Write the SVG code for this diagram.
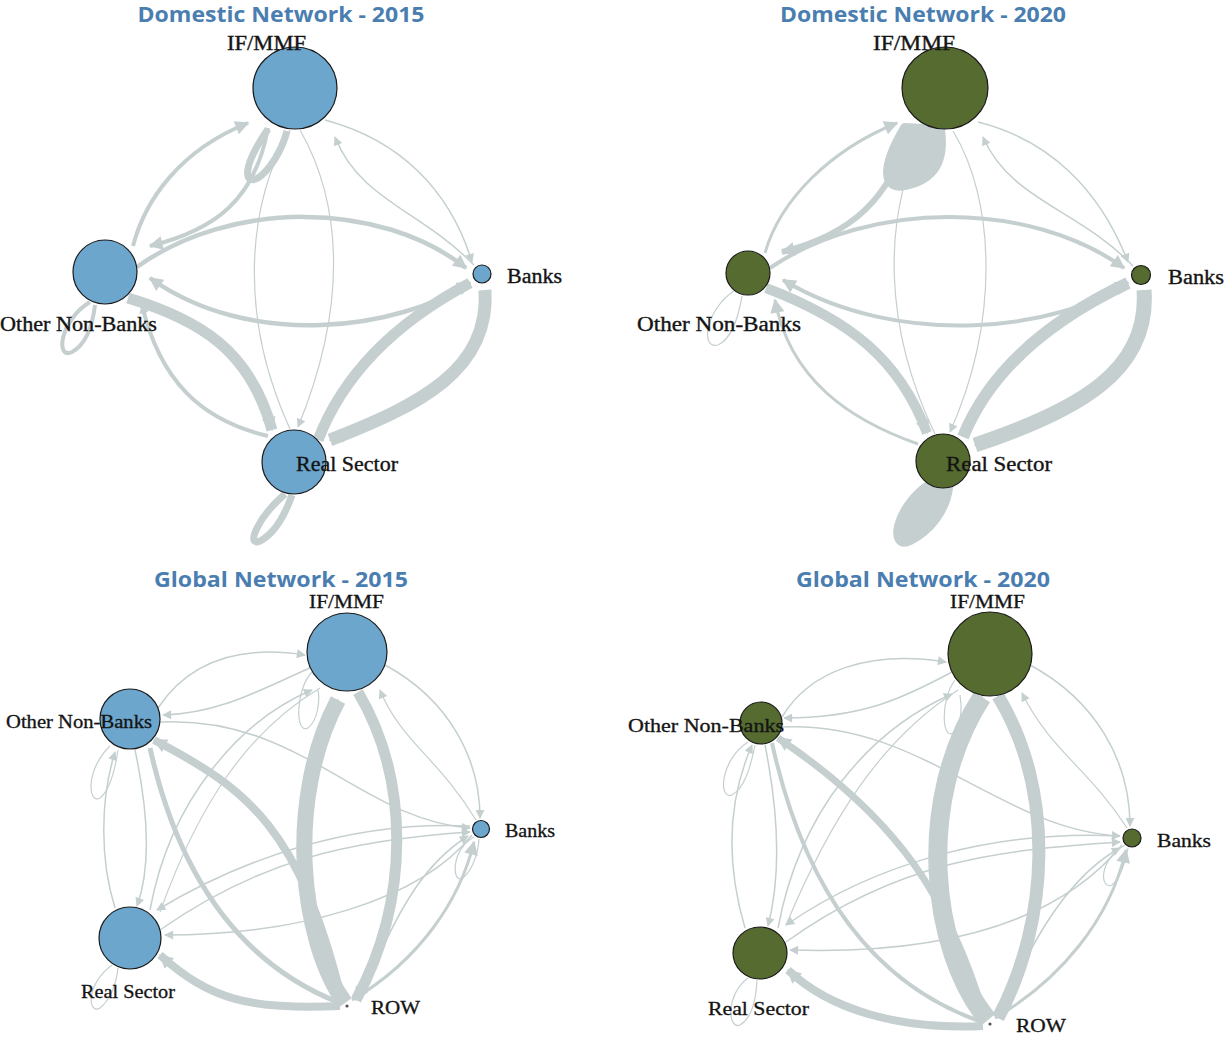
<svg xmlns="http://www.w3.org/2000/svg" width="1225" height="1038" viewBox="0 0 1225 1038">
<style>
.e{fill:none;stroke:#C5CFCF;stroke-linecap:butt;stroke-linejoin:round}
.blob{fill:#C5CFCF;stroke:#C5CFCF;stroke-linejoin:round}
.ttl{font-family:"Open Sans","Noto Sans",sans-serif;font-weight:700;font-size:22px;fill:#4A7EB0;text-anchor:middle}
.lbl{font-family:"Liberation Serif",serif;font-size:20px;fill:#141414;stroke:#141414;stroke-width:0.35}
.lbs{font-family:"Liberation Serif",serif;font-size:18px;fill:#141414;stroke:#141414;stroke-width:0.3}
.nb{fill:#6CA6CD;stroke:#1a1a1a;stroke-width:1.2}
.ng{fill:#556B2F;stroke:#1a1a1a;stroke-width:1.2}
</style>
<defs>
<marker id="as" viewBox="0 0 10 10" refX="9" refY="5" markerWidth="11" markerHeight="9" markerUnits="userSpaceOnUse" orient="auto"><path d="M0,0 L10,5 L0,10 z" fill="#C5CFCF"/></marker>
<marker id="al" viewBox="0 0 10 10" refX="9" refY="5" markerWidth="17" markerHeight="14" markerUnits="userSpaceOnUse" orient="auto"><path d="M0,0 L10,5 L0,10 z" fill="#C5CFCF"/></marker>
</defs>
<rect width="1225" height="1038" fill="#fff"/>
<g id="titles">
<text class="ttl" x="281" y="22" textLength="287" lengthAdjust="spacingAndGlyphs">Domestic Network - 2015</text>
<text class="ttl" x="923" y="22" textLength="286" lengthAdjust="spacingAndGlyphs">Domestic Network - 2020</text>
<text class="ttl" x="281" y="587" textLength="254" lengthAdjust="spacingAndGlyphs">Global Network - 2015</text>
<text class="ttl" x="923" y="587" textLength="254" lengthAdjust="spacingAndGlyphs">Global Network - 2020</text>
</g>
<g id="connectors">
<!-- Panel 1 -->
<path class="e" stroke-width="4" marker-end="url(#al)" d="M133,246 C145,200 180,150 248,123"/>
<path class="e" stroke-width="4" marker-end="url(#al)" d="M268,128 C255,200 215,230 150,246"/>
<path class="e" stroke-width="7" d="M268,129 C240,170 245,185 258,178 C270,170 282,150 287,131"/>
<path class="e" stroke-width="1.5" marker-end="url(#as)" d="M325,120 C400,140 450,190 472,262"/>
<path class="e" stroke-width="1.5" marker-end="url(#as)" d="M474,265 C420,210 360,200 335,137"/>
<path class="e" stroke-width="1.2" marker-end="url(#as)" d="M300,130 C340,200 350,300 298,427"/>
<path class="e" stroke-width="1.2" d="M290,429 C240,320 245,210 290,130"/>
<path class="e" stroke-width="4.5" marker-end="url(#al)" d="M137,267 C230,200 380,200 466,268"/>
<path class="e" stroke-width="4.5" marker-end="url(#al)" d="M470,282 C400,330 250,350 150,278"/>
<path class="e" stroke-width="11" marker-end="url(#al)" d="M128,298 C200,320 250,350 272,430"/>
<path class="e" stroke-width="4" marker-end="url(#as)" d="M268,436 C200,420 160,380 142,305"/>
<path class="e" stroke-width="4" d="M90,302 C60,320 55,360 72,352 C85,345 92,330 95,305"/>
<path class="e" stroke-width="11" marker-end="url(#al)" d="M318,440 C345,370 400,320 470,283"/>
<path class="e" stroke-width="13" marker-end="url(#al)" d="M485,290 C490,370 420,405 330,440"/>
<path class="e" stroke-width="7" d="M285,494 C255,520 245,550 262,540 C275,532 285,515 292,495"/>
<!-- Panel 2 -->
<path class="e" stroke-width="3" marker-end="url(#al)" d="M765,253 C780,200 830,150 897,123"/>
<path class="e" stroke-width="6" marker-end="url(#al)" d="M910,130 C890,200 850,235 782,252"/>
<path class="blob" stroke-width="10" d="M905,128 C880,170 885,190 905,185 C930,180 945,165 940,130 Z"/>
<path class="e" stroke-width="1.5" marker-end="url(#as)" d="M978,122 C1050,140 1100,190 1128,262"/>
<path class="e" stroke-width="1.5" marker-end="url(#as)" d="M1133,266 C1080,210 1010,200 983,137"/>
<path class="e" stroke-width="1.2" marker-end="url(#as)" d="M953,131 C995,200 1000,320 950,432"/>
<path class="e" stroke-width="1.2" d="M935,434 C885,330 880,220 925,130"/>
<path class="e" stroke-width="4" marker-end="url(#al)" d="M770,268 C870,200 1030,200 1124,268"/>
<path class="e" stroke-width="4" marker-end="url(#al)" d="M1128,282 C1060,330 900,350 783,280"/>
<path class="e" stroke-width="10" marker-end="url(#al)" d="M766,288 C850,320 900,360 927,433"/>
<path class="e" stroke-width="3" marker-end="url(#al)" d="M918,444 C850,420 790,380 775,300"/>
<path class="e" stroke-width="1.2" d="M735,290 C705,310 700,350 718,345 C730,340 738,320 742,296"/>
<path class="e" stroke-width="12" marker-end="url(#al)" d="M963,437 C990,370 1050,320 1128,283"/>
<path class="e" stroke-width="15" marker-end="url(#al)" d="M1144,290 C1150,370 1080,410 975,445"/>
<path class="blob" stroke-width="10" d="M928,486 C895,510 890,550 910,540 C930,530 945,510 948,488 Z"/>
<!-- Panel 3 -->
<path class="e" stroke-width="16" marker-end="url(#al)" d="M345,1003 C300,940 285,800 338,700"/>
<path class="e" stroke-width="11" marker-end="url(#al)" d="M358,692 C410,780 410,900 356,1000"/>
<path class="e" stroke-width="8" marker-end="url(#al)" d="M342,1000 C300,830 250,790 154,740"/>
<path class="e" stroke-width="5" d="M150,748 C175,860 230,960 340,1003"/>
<path class="e" stroke-width="8" marker-end="url(#al)" d="M340,1006 C250,1010 210,1000 160,955"/>
<path class="e" stroke-width="1.5" marker-end="url(#as)" d="M472,835 C420,900 300,935 165,935"/>
<path class="e" stroke-width="1.5" marker-end="url(#as)" d="M470,826 C350,820 240,860 157,910"/>
<path class="e" stroke-width="1.5" marker-end="url(#as)" d="M160,722 C300,715 360,820 470,828"/>
<path class="e" stroke-width="1.5" marker-end="url(#as)" d="M160,930 C260,860 350,840 470,832"/>
<path class="e" stroke-width="3" marker-end="url(#al)" d="M352,1000 C420,960 460,900 474,842"/>
<path class="e" stroke-width="1.5" marker-end="url(#as)" d="M365,990 C400,900 430,860 468,836"/>
<path class="e" stroke-width="1.5" marker-end="url(#as)" d="M385,665 C450,700 480,760 480,818"/>
<path class="e" stroke-width="1.2" marker-end="url(#as)" d="M476,820 C440,760 400,740 380,690"/>
<path class="e" stroke-width="1.5" marker-end="url(#as)" d="M158,708 C190,660 240,645 305,655"/>
<path class="e" stroke-width="1.5" marker-end="url(#as)" d="M312,667 C260,690 220,713 163,715"/>
<path class="e" stroke-width="1.5" marker-end="url(#as)" d="M150,910 C170,800 240,720 312,690"/>
<path class="e" stroke-width="1.2" d="M320,688 C250,730 200,800 160,912"/>
<path class="e" stroke-width="1.5" marker-end="url(#as)" d="M135,750 C150,820 150,870 137,906"/>
<path class="e" stroke-width="1.5" marker-end="url(#as)" d="M115,908 C100,860 100,800 115,752"/>
<path class="e" stroke-width="1.2" d="M110,746 C85,770 88,805 100,798 C110,790 115,770 118,750"/>
<path class="e" stroke-width="1.2" d="M112,965 C85,985 88,1015 100,1008 C110,1000 116,985 118,968"/>
<path class="e" stroke-width="1.2" d="M474,837 C450,850 452,885 463,878 C472,870 478,855 479,839"/>
<path class="e" stroke-width="1.2" d="M312,672 C295,690 295,735 308,728 C318,720 320,700 318,690"/>
<!-- Panel 4 -->
<path class="e" stroke-width="19" marker-end="url(#al)" d="M988,1020 C930,950 915,800 982,697"/>
<path class="e" stroke-width="13" marker-end="url(#al)" d="M998,696 C1055,790 1050,920 998,1018"/>
<path class="e" stroke-width="7" marker-end="url(#al)" d="M985,1018 C950,900 900,820 778,738"/>
<path class="e" stroke-width="4" d="M772,743 C800,870 860,980 982,1022"/>
<path class="e" stroke-width="8" marker-end="url(#al)" d="M983,1026 C900,1030 830,1010 788,970"/>
<path class="e" stroke-width="1.5" marker-end="url(#as)" d="M1122,845 C1060,920 950,955 790,950"/>
<path class="e" stroke-width="1.5" marker-end="url(#as)" d="M1120,836 C1000,830 880,860 786,925"/>
<path class="e" stroke-width="1.5" marker-end="url(#as)" d="M782,727 C920,720 1000,830 1120,836"/>
<path class="e" stroke-width="1.5" marker-end="url(#as)" d="M786,942 C900,860 1000,850 1120,842"/>
<path class="e" stroke-width="3" marker-end="url(#al)" d="M995,1018 C1060,980 1110,920 1126,850"/>
<path class="e" stroke-width="1.5" marker-end="url(#as)" d="M1005,1005 C1040,920 1080,870 1120,848"/>
<path class="e" stroke-width="1.5" marker-end="url(#as)" d="M1030,665 C1095,700 1130,760 1130,826"/>
<path class="e" stroke-width="1.2" marker-end="url(#as)" d="M1127,828 C1090,770 1050,750 1022,693"/>
<path class="e" stroke-width="1.5" marker-end="url(#as)" d="M782,717 C810,670 870,650 946,662"/>
<path class="e" stroke-width="1.5" marker-end="url(#as)" d="M952,672 C900,700 860,718 784,718"/>
<path class="e" stroke-width="1.5" marker-end="url(#as)" d="M778,928 C800,810 870,730 952,694"/>
<path class="e" stroke-width="1.2" d="M958,690 C880,740 830,820 786,925"/>
<path class="e" stroke-width="1.5" marker-end="url(#as)" d="M765,745 C780,820 780,880 768,926"/>
<path class="e" stroke-width="1.5" marker-end="url(#as)" d="M745,928 C725,860 728,800 752,745"/>
<path class="e" stroke-width="1.2" d="M748,742 C720,760 718,800 732,795 C744,788 750,770 755,745"/>
<path class="e" stroke-width="1.2" d="M748,978 C725,995 728,1030 740,1025 C752,1018 756,1000 757,980"/>
<path class="e" stroke-width="1.2" d="M1125,845 C1098,860 1100,890 1112,885 C1120,878 1126,862 1128,848"/>
<path class="e" stroke-width="1.2" d="M955,680 C940,700 942,740 953,733 C962,725 962,705 960,695"/>
</g>
<!-- Panel 1 nodes -->
<g id="d15-ifmmf"><ellipse class="nb" cx="295" cy="88" rx="42" ry="41"/><text class="lbl" x="227" y="50" textLength="79" lengthAdjust="spacingAndGlyphs">IF/MMF</text></g>
<g id="d15-onb"><circle class="nb" cx="105" cy="272" r="32"/><text class="lbl" x="0" y="331" textLength="157" lengthAdjust="spacingAndGlyphs">Other Non-Banks</text></g>
<g id="d15-banks"><circle class="nb" cx="482" cy="274" r="9"/><text class="lbl" x="507" y="283" textLength="55" lengthAdjust="spacingAndGlyphs">Banks</text></g>
<g id="d15-real"><circle class="nb" cx="294" cy="462" r="32"/><text class="lbl" x="296" y="471" textLength="102" lengthAdjust="spacingAndGlyphs">Real Sector</text></g>
<!-- Panel 2 nodes -->
<g id="d20-ifmmf"><ellipse class="ng" cx="945" cy="88" rx="43" ry="41"/><text class="lbl" x="873" y="50" textLength="82" lengthAdjust="spacingAndGlyphs">IF/MMF</text></g>
<g id="d20-onb"><circle class="ng" cx="748" cy="273" r="22"/><text class="lbl" x="637" y="331" textLength="164" lengthAdjust="spacingAndGlyphs">Other Non-Banks</text></g>
<g id="d20-banks"><circle class="ng" cx="1141" cy="275" r="9.5"/><text class="lbl" x="1168" y="284" textLength="56" lengthAdjust="spacingAndGlyphs">Banks</text></g>
<g id="d20-real"><circle class="ng" cx="943" cy="461" r="27"/><text class="lbl" x="946" y="471" textLength="106" lengthAdjust="spacingAndGlyphs">Real Sector</text></g>
<!-- Panel 3 nodes -->
<g id="g15-ifmmf"><ellipse class="nb" cx="347" cy="652" rx="40" ry="39"/><text class="lbs" x="309" y="608" textLength="75" lengthAdjust="spacingAndGlyphs">IF/MMF</text></g>
<g id="g15-onb"><circle class="nb" cx="130" cy="719" r="30"/><text class="lbs" x="6" y="728" textLength="146" lengthAdjust="spacingAndGlyphs">Other Non-Banks</text></g>
<g id="g15-banks"><circle class="nb" cx="481" cy="829" r="8.5"/><text class="lbs" x="505" y="837" textLength="50" lengthAdjust="spacingAndGlyphs">Banks</text></g>
<g id="g15-real"><circle class="nb" cx="130" cy="938" r="31"/><text class="lbs" x="81" y="998" textLength="94" lengthAdjust="spacingAndGlyphs">Real Sector</text></g>
<g id="g15-row"><circle cx="347" cy="1006" r="1.6" fill="#555"/><text class="lbs" x="371" y="1014" textLength="49" lengthAdjust="spacingAndGlyphs">ROW</text></g>
<!-- Panel 4 nodes -->
<g id="g20-ifmmf"><ellipse class="ng" cx="990" cy="654" rx="42" ry="42"/><text class="lbs" x="950" y="608" textLength="75" lengthAdjust="spacingAndGlyphs">IF/MMF</text></g>
<g id="g20-onb"><circle class="ng" cx="761" cy="723" r="21"/><text class="lbs" x="628" y="732" textLength="156" lengthAdjust="spacingAndGlyphs">Other Non-Banks</text></g>
<g id="g20-banks"><circle class="ng" cx="1132" cy="838" r="9"/><text class="lbs" x="1157" y="847" textLength="54" lengthAdjust="spacingAndGlyphs">Banks</text></g>
<g id="g20-real"><ellipse class="ng" cx="760" cy="953" rx="27" ry="26"/><text class="lbs" x="708" y="1015" textLength="101" lengthAdjust="spacingAndGlyphs">Real Sector</text></g>
<g id="g20-row"><circle cx="990" cy="1024" r="1.6" fill="#555"/><text class="lbs" x="1016" y="1032" textLength="50" lengthAdjust="spacingAndGlyphs">ROW</text></g>
</svg>
